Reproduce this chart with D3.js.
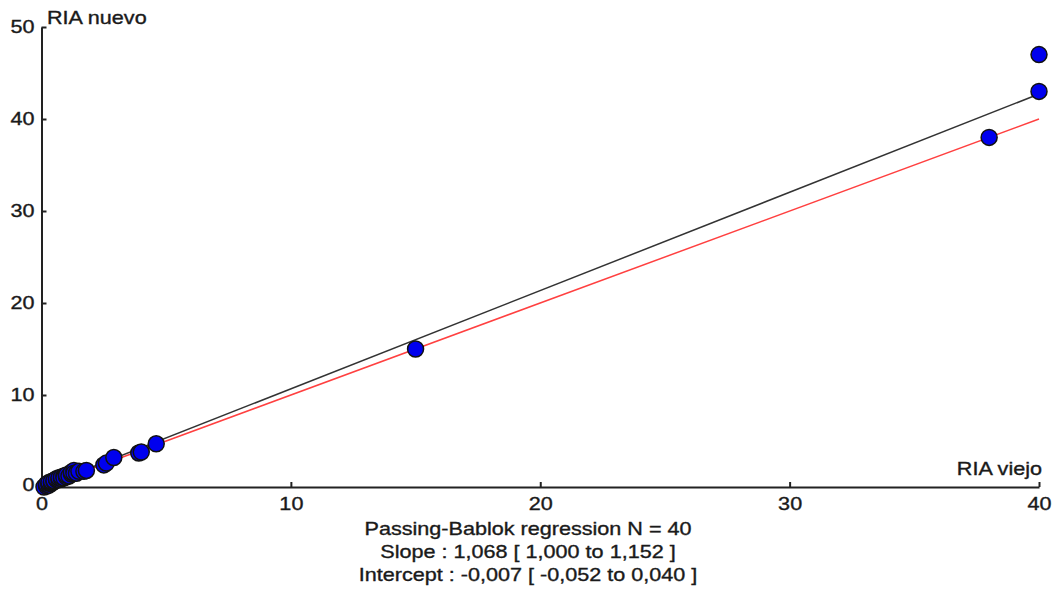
<!DOCTYPE html>
<html>
<head>
<meta charset="utf-8">
<script src="https://cdn.jsdelivr.net/npm/d3@7"></script>
<style>
  body { margin: 0; background: #fff; }
  text { font-family: "Liberation Sans", Arial, sans-serif; fill: #1a1a1a; stroke: #1a1a1a; stroke-width: 0.35px; }
</style>
</head>
<body>
<script>
// RIA viejo (x) vs RIA nuevo (y), 40 samples, many overlap near the origin
var viejo = [0.1, 0.2, 0.2, 0.3, 0.3, 0.3, 0.4, 0.4, 0.4, 0.5,
             0.5, 0.6, 0.6, 0.7, 0.7, 0.8, 0.8, 0.9, 0.9, 1.0,
             1.0, 1.1, 1.2, 1.2, 1.3, 1.3, 1.4, 1.5, 1.7, 1.8,
             2.5, 2.6, 2.9, 3.9, 4.0, 4.6, 15, 38, 40, 40];
var nuevo = [0.0, 0.1, 0.3, 0.2, 0.4, 0.5, 0.4, 0.5, 0.6, 0.6,
             0.7, 0.8, 0.9, 0.8, 1.0, 0.9, 1.1, 1.2, 1.0, 1.1,
             1.3, 1.2, 1.4, 1.6, 1.8, 1.5, 1.5, 1.7, 1.7, 1.8,
             2.4, 2.6, 3.2, 3.7, 3.8, 4.7, 15, 38, 43, 47];

var xTicks = [0, 10, 20, 30, 40];
var yTicks = [0, 10, 20, 30, 40, 50];

var pbSlope = 1.068, pbIntercept = -0.007;
var statsLines = [
  "Passing-Bablok regression N = 40",
  "Slope : 1,068 [ 1,000 to 1,152 ]",
  "Intercept : -0,007 [ -0,052 to 0,040 ]"
];

var width = 1053, height = 594;
var sx = 1.2; // text in the original is stretched horizontally

var svg = d3.select("body").append("svg")
    .attr("width", width)
    .attr("height", height);

var x = d3.scaleLinear().domain([0, 40]).range([41.5, 1039]);
var y = d3.scaleLinear().domain([0, 50]).range([487, 27]);

// axes
var xAxis = svg.append("g")
    .attr("transform", "translate(0," + y(0) + ")")
    .call(d3.axisBottom(x).tickValues(xTicks).tickSizeInner(-5).tickSizeOuter(0).tickPadding(10));
var yAxis = svg.append("g")
    .attr("transform", "translate(" + x(0) + ",0)")
    .call(d3.axisLeft(y).tickValues(yTicks).tickSizeInner(-5).tickSizeOuter(0).tickPadding(7));

[xAxis, yAxis].forEach(function(g) {
    g.selectAll(".domain").attr("stroke", "#222").attr("stroke-width", 2);
    g.selectAll(".tick line").attr("stroke", "#222").attr("stroke-width", 2);
    g.selectAll(".tick text")
        .style("font-size", "18px")
        .attr("fill", "#1a1a1a");
});
xAxis.selectAll(".tick text").attr("transform", "scale(" + sx + ",1)");
yAxis.selectAll(".tick text").attr("x", null).attr("transform", "translate(-7,0) scale(" + sx + ",1)");
yAxis.selectAll(".tick").filter(function(d) { return d === 0; }).select("text").attr("dy", "0.2em");

// identity line (red) and regression line (black)
var line = d3.line().x(function(d) { return x(d[0]); }).y(function(d) { return y(d[1]); });
svg.append("path")
    .datum([[0, 0], [40, 40]])
    .attr("d", line)
    .attr("fill", "none")
    .attr("stroke", "#ff4040")
    .attr("stroke-width", 1.5);
svg.append("path")
    .datum([[0, pbIntercept], [40, pbIntercept + pbSlope * 40]])
    .attr("d", line)
    .attr("fill", "none")
    .attr("stroke", "#333")
    .attr("stroke-width", 1.5);

// points
svg.selectAll(".dot")
    .data(d3.range(viejo.length))
    .enter().append("circle")
    .attr("class", "dot")
    .attr("cx", function(i) { return x(viejo[i]); })
    .attr("cy", function(i) { return y(nuevo[i]); })
    .attr("r", 8)
    .style("fill", "#0000ee")
    .style("stroke", "#111")
    .style("stroke-width", 1.5);

// axis titles
svg.append("text")
    .attr("transform", "translate(47,24) scale(" + sx + ",1)")
    .style("font-size", "18px")
    .text("RIA nuevo");
svg.append("text")
    .attr("transform", "translate(1042,475) scale(" + sx + ",1)")
    .attr("text-anchor", "end")
    .style("font-size", "18px")
    .text("RIA viejo");

// stats
svg.selectAll(".stat")
    .data(statsLines)
    .enter().append("text")
    .attr("class", "stat")
    .attr("text-anchor", "middle")
    .attr("transform", function(d, i) { return "translate(528," + (535 + i * 23) + ") scale(" + sx + ",1)"; })
    .style("font-size", "18px")
    .text(function(d) { return d; });
</script>
</body>
</html>
